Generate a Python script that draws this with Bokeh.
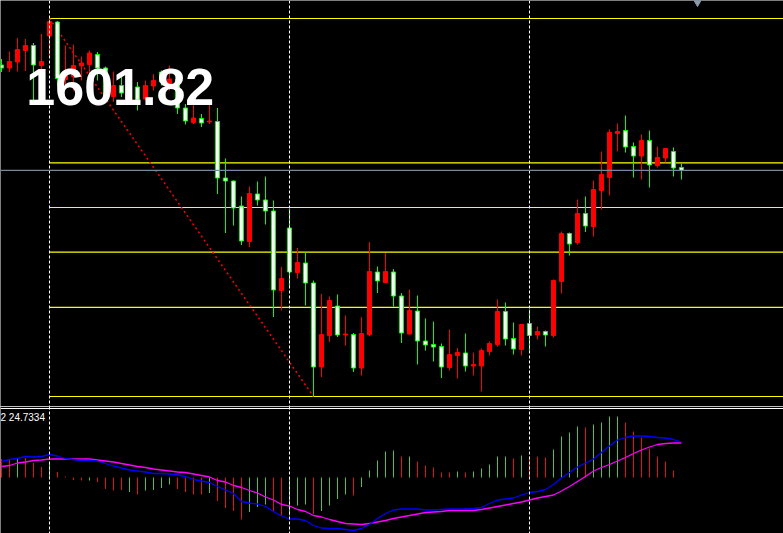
from bokeh.plotting import figure
from bokeh.layouts import column
from bokeh.models import Range1d, Span, ColumnDataSource, Label
from bokeh.embed import file_html
from bokeh.resources import INLINE

# ---------------- data ----------------
opens = [1622.9, 1622.3, 1623.5, 1625.8, 1626.8, 1622.8, 1628.7, 1631.5, 1620.0, 1620.6,
         1622.7, 1623.0, 1625.0, 1622.3, 1616.6, 1618.8, 1617.3, 1618.5, 1616.1, 1618.7,
         1621.5, 1619.1, 1620.1, 1614.3, 1611.4, 1612.2, 1611.5, 1611.6, 1600.3, 1599.7,
         1594.7, 1587.6, 1597.1, 1595.9, 1593.7, 1577.8, 1590.3, 1581.4, 1583.3, 1579.3,
         1562.5, 1568.8, 1574.7, 1568.9, 1569.0, 1562.3, 1569.0, 1581.5, 1579.4, 1581.5,
         1576.7, 1569.1, 1573.7, 1567.7, 1567.0, 1566.6, 1562.4, 1564.8, 1565.3, 1562.7,
         1562.7, 1565.6, 1567.0, 1573.6, 1568.2, 1566.0, 1571.2, 1568.9, 1569.6, 1568.8,
         1579.6, 1589.2, 1587.4, 1593.2, 1590.6, 1597.8, 1600.4, 1609.2, 1609.8, 1606.6,
         1604.7, 1607.8, 1602.8, 1604.3, 1605.6, 1602.4]
highs = [1624.1, 1625.6, 1628.3, 1628.1, 1627.3, 1629.1, 1632.2, 1631.7, 1626.8, 1627.0,
         1624.6, 1625.8, 1625.5, 1622.6, 1621.6, 1620.5, 1619.8, 1619.5, 1619.8, 1621.1,
         1621.8, 1622.8, 1620.5, 1615.1, 1616.5, 1613.1, 1615.5, 1614.3, 1604.2, 1599.8,
         1596.6, 1598.6, 1599.6, 1600.6, 1595.8, 1582.5, 1594.1, 1586.3, 1585.5, 1579.8,
         1577.1, 1576.6, 1577.0, 1572.8, 1569.3, 1572.5, 1587.5, 1582.6, 1585.3, 1582.1,
         1577.3, 1578.0, 1576.8, 1572.2, 1571.6, 1567.2, 1570.0, 1566.3, 1569.2, 1565.4,
         1566.2, 1567.6, 1576.0, 1575.4, 1571.4, 1571.0, 1574.0, 1570.6, 1569.8, 1580.0,
         1589.6, 1589.4, 1596.0, 1596.6, 1599.8, 1605.6, 1610.0, 1611.2, 1612.8, 1607.4,
         1609.0, 1609.8, 1606.6, 1606.2, 1606.4, 1603.2]
lows = [1621.5, 1621.5, 1621.6, 1621.7, 1615.8, 1621.4, 1624.8, 1618.8, 1618.2, 1617.8,
        1619.8, 1620.8, 1619.8, 1615.8, 1615.5, 1616.5, 1615.8, 1613.8, 1615.8, 1617.8,
        1618.8, 1617.8, 1613.1, 1611.0, 1611.1, 1610.5, 1611.1, 1597.1, 1589.3, 1590.8,
        1586.9, 1586.5, 1594.8, 1591.0, 1572.5, 1573.8, 1578.3, 1580.2, 1574.8, 1556.6,
        1560.5, 1567.5, 1568.5, 1566.8, 1561.5, 1560.8, 1568.7, 1577.3, 1579.3, 1574.6,
        1567.3, 1569.0, 1563.0, 1565.8, 1563.6, 1560.3, 1561.8, 1560.2, 1561.6, 1560.8,
        1557.6, 1564.8, 1566.6, 1566.8, 1565.0, 1564.8, 1565.8, 1568.0, 1566.6, 1568.4,
        1577.2, 1584.8, 1587.0, 1589.5, 1588.6, 1594.0, 1596.8, 1605.6, 1605.4, 1600.4,
        1600.0, 1598.4, 1602.4, 1603.4, 1600.6, 1600.0]
closes = [1622.3, 1623.6, 1626.0, 1626.8, 1622.9, 1623.6, 1631.6, 1620.2, 1620.8, 1622.8,
          1623.3, 1625.3, 1622.3, 1616.8, 1618.8, 1617.3, 1618.8, 1615.9, 1618.8, 1619.8,
          1619.5, 1620.1, 1614.3, 1611.7, 1612.3, 1611.3, 1611.7, 1600.3, 1599.7, 1594.3,
          1587.7, 1597.2, 1595.9, 1593.7, 1577.9, 1580.2, 1581.5, 1583.4, 1579.3, 1562.5,
          1569.0, 1575.8, 1568.9, 1569.1, 1562.3, 1569.2, 1581.6, 1579.7, 1581.6, 1576.7,
          1569.3, 1573.8, 1567.7, 1566.9, 1566.5, 1562.5, 1565.0, 1565.4, 1562.7, 1563.0,
          1565.8, 1567.2, 1573.6, 1568.1, 1566.1, 1571.0, 1568.8, 1569.6, 1568.9, 1579.8,
          1589.2, 1587.1, 1593.2, 1590.7, 1598.0, 1601.0, 1609.4, 1609.6, 1606.5, 1604.7,
          1607.8, 1602.9, 1604.4, 1606.2, 1602.3, 1601.82]

bid_price = 1601.82
bid_label = "1601.82"

# Fibonacci anchors (bar index) and ratios
fib_high_bar = 6
fib_low_bar = 39
fib_ratios = [0.0, 0.236, 0.382, 0.5, 0.618, 1.0]

# period separators (bar index)
separators = [6, 36, 66]

# lower indicator pane
hist = [3.7, 3.5, 3.9, 3.9, 2.9, 2.1, 3.1, 1.1, 0.2, -0.5,
        -0.6, -0.6, -0.9, -2.3, -2.6, -2.5, -2.9, -3.4, -2.6, -2.5,
        -2.1, -1.4, -2.3, -2.9, -3.4, -3.4, -3.1, -4.7, -6.1, -6.7,
        -8.4, -6.9, -5.9, -5.4, -6.7, -7.6, -7.6, -5.6, -5.4, -7.3,
        -6.7, -5.6, -4.3, -3.4, -3.6, -1.9, 1.4, 3.4, 5.2, 5.4,
        4.2, 4.2, 3.2, 2.4, 2.0, 1.0, 1.0, 1.2, 1.0, 1.2,
        1.8, 2.6, 4.2, 4.2, 3.8, 4.4, 4.2, 4.2, 4.0, 5.6,
        8.2, 9.0, 10.2, 10.0, 10.6, 11.0, 12.2, 12.2, 11.0, 9.2,
        8.0, 5.8, 4.2, 3.2, 1.4]
hist_dir = ["dn", "dn", "up", "dn", "dn", "dn", "up", "dn", "dn", "dn",
            "dn", "up", "dn", "dn", "dn", "dn", "up", "dn", "up", "up",
            "up", "up", "dn", "dn", "dn", "dn", "up", "dn", "dn", "dn",
            "dn", "up", "up", "up", "dn", "dn", "up", "up", "up", "dn",
            "up", "up", "up", "up", "dn", "up", "up", "up", "up", "up",
            "dn", "up", "dn", "dn", "dn", "dn", "dn", "up", "dn", "up",
            "up", "up", "up", "up", "dn", "up", "dn", "dn", "dn", "up",
            "up", "up", "up", "dn", "up", "up", "up", "up", "dn", "dn",
            "dn", "dn", "dn", "dn", "dn"]
main_line = [3.2, 3.6, 3.8, 4.2, 4.1, 4.2, 4.6, 4.3, 3.8, 3.6,
             3.4, 3.4, 3.3, 2.8, 2.3, 1.9, 1.5, 1.3, 1.1, 0.8,
             0.8, 0.7, 0.5, 0.2, -0.4, -0.7, -1.0, -1.8, -2.5, -3.2,
             -4.8, -5.1, -5.3, -5.8, -6.8, -7.7, -8.3, -8.3, -8.6, -9.6,
             -10.1, -10.2, -10.2, -10.4, -10.6, -10.2, -9.4, -8.2, -7.2, -6.5,
             -6.3, -6.3, -6.3, -6.5, -6.5, -6.4, -6.3, -6.3, -6.3, -6.2,
             -6.0, -5.2, -4.5, -4.3, -4.1, -3.5, -3.0, -2.8, -2.4, -1.4,
             -0.1, 1.0, 2.1, 2.9, 3.7, 5.0, 6.3, 7.5, 8.0, 8.3,
             8.3, 8.2, 8.0, 7.9, 7.6, 7.1]
signal_line = [2.2, 2.4, 2.9, 3.1, 3.4, 3.5, 3.7, 3.7, 3.7, 3.7,
               3.7, 3.7, 3.5, 3.3, 3.1, 2.8, 2.5, 2.2, 2.0, 1.7,
               1.5, 1.3, 1.1, 1.0, 0.7, 0.4, 0.1, -0.6, -0.9, -1.6,
               -2.0, -2.6, -3.1, -3.9, -4.5, -5.4, -5.7, -6.4, -6.8, -7.6,
               -7.9, -8.4, -8.8, -9.2, -9.3, -9.4, -9.2, -8.9, -8.6, -8.2,
               -7.9, -7.6, -7.3, -7.0, -6.9, -6.8, -6.6, -6.6, -6.6, -6.6,
               -6.4, -6.1, -5.8, -5.5, -5.2, -4.9, -4.5, -4.1, -3.8, -3.5,
               -2.7, -1.8, -0.8, 0.2, 1.3, 2.0, 2.6, 3.3, 4.0, 4.8,
               5.5, 6.1, 6.6, 6.8, 6.9, 6.9]
ind_label = "2 24.7334"

# ---------------- styling ----------------
BG = "#000000"
BULL = "#ff0000"
BEAR_LINE = "#00ff00"
BEAR_FILL = "#ffffff"
W = 783
H_MAIN = 406
H_SUB = 127
X_START, X_END = -0.125, 97.75

x_range = Range1d(X_START, X_END)

def base_fig(height, y0, y1):
    f = figure(width=W, height=height, x_range=x_range, y_range=Range1d(y0, y1),
               output_backend="svg", toolbar_location=None,
               x_axis_location=None, y_axis_location=None,
               background_fill_color=BG, border_fill_color=BG,
               min_border=0, outline_line_color=None)
    f.xgrid.visible = False
    f.ygrid.visible = False
    return f

# ---------------- main pane ----------------
p = base_fig(H_MAIN, 1554.6, 1635.8)

idx = list(range(len(opens)))
bull = [c >= o for o, c in zip(opens, closes)]
src = ColumnDataSource(dict(
    x=idx, o=opens, h=highs, l=lows, c=closes,
    top=[max(o, c) for o, c in zip(opens, closes)],
    bot=[min(o, c) for o, c in zip(opens, closes)],
    wick=[BULL if b else BEAR_LINE for b in bull],
    fill=[BULL if b else BEAR_FILL for b in bull],
    line=[BULL if b else BEAR_LINE for b in bull],
))

# period separators
for s in separators:
    p.add_layout(Span(location=s, dimension="height", line_color="white",
                      line_width=1, line_dash="3 2"))

# fibonacci levels
hi = highs[fib_high_bar]
lo = lows[fib_low_bar]
fib_levels = [lo + r * (hi - lo) for r in fib_ratios]
p.segment(x0=[fib_high_bar] * len(fib_levels), y0=fib_levels,
          x1=[X_END + 5] * len(fib_levels), y1=fib_levels,
          line_color="#ffff00", line_width=1.2)
# fib trend line
p.line(x=[fib_high_bar, fib_low_bar], y=[hi, lo], line_color="#ff0000",
       line_width=1.5, line_dash="2 3")

# bid line
p.add_layout(Span(location=bid_price, dimension="width", line_color="#778899", line_width=1.2))

# candles
p.segment(x0="x", y0="l", x1="x", y1="h", line_color="wick", line_width=1, source=src)
p.vbar(x="x", top="top", bottom="bot", width=0.5, fill_color="fill",
       line_color="line", line_width=1, source=src)

# big price label
p.add_layout(Label(x=3.1, y=1618.6, text=bid_label, text_color="white",
                   text_font="Liberation Sans", text_font_style="bold",
                   text_font_size="52px", text_baseline="alphabetic"))

# small marker top right
p.scatter(x=[87], y=[1635.4], marker="inverted_triangle", size=7,
          fill_color="#8a9aaa", line_color="#8a9aaa")

# ---------------- lower pane ----------------
q = base_fig(H_SUB, -11.2, 14.2)

for s in separators:
    q.add_layout(Span(location=s, dimension="height", line_color="white",
                      line_width=1, line_dash="3 2"))

hsrc = ColumnDataSource(dict(
    x=list(range(len(hist))), y0=[0] * len(hist), y1=hist,
    col=["#46c846" if d == "up" else "#e81010" for d in hist_dir],
))
q.segment(x0="x", y0="y0", x1="x", y1="y1", line_color="col", line_width=1, source=hsrc)

q.line(x=list(range(len(signal_line))), y=signal_line, line_color="#ff00ff", line_width=1.3)
q.line(x=list(range(len(main_line))), y=main_line, line_color="#0000ff", line_width=1.3)

# pane separator (double white line)
q.add_layout(Span(location=14.2, dimension="width", line_color="white", line_width=1))
q.add_layout(Span(location=13.8, dimension="width", line_color="white", line_width=1))

q.add_layout(Label(x=X_START, y=13.1, text=ind_label, text_color="white",
                   text_font="Liberation Sans", text_font_size="10px",
                   text_baseline="top"))

layout = column(p, q, spacing=0)
open("out.html", "w").write(file_html(layout, INLINE))
